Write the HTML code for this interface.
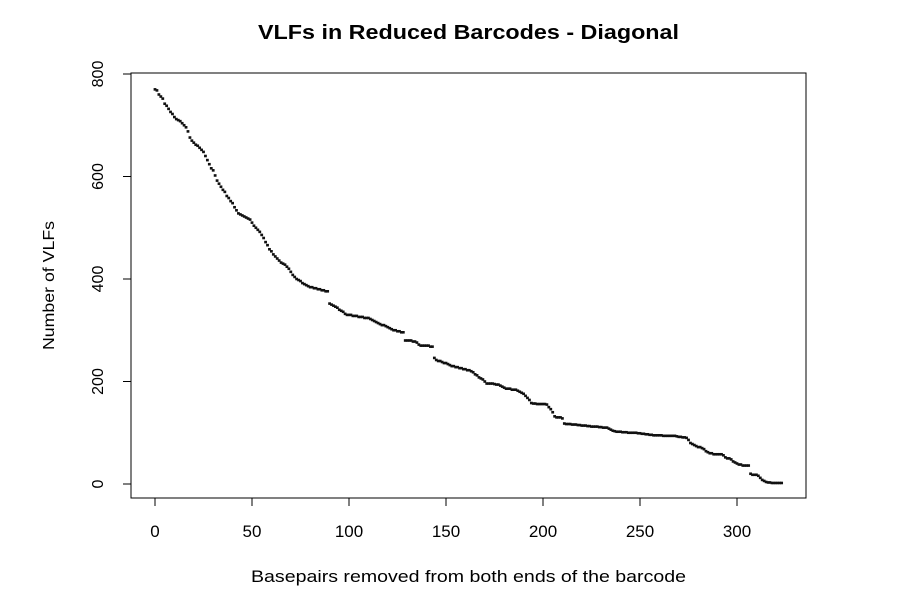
<!DOCTYPE html>
<html><head><meta charset="utf-8"><style>
body{margin:0;background:#fff}
svg text{font-family:"Liberation Sans",Arial,sans-serif;fill:#000}
</style></head><body>
<svg id="chart" width="901" height="609" xmlns="http://www.w3.org/2000/svg">
<text x="258" y="39" textLength="421" lengthAdjust="spacingAndGlyphs" font-size="20" font-weight="bold">VLFs in Reduced Barcodes - Diagonal</text>
<text x="251" y="582" textLength="435" lengthAdjust="spacingAndGlyphs" font-size="17">Basepairs removed from both ends of the barcode</text>
<text transform="translate(54,350) rotate(-90)" textLength="129" lengthAdjust="spacingAndGlyphs" font-size="16">Number of VLFs</text>
<rect x="131" y="73" width="675" height="425" fill="none" stroke="#000" stroke-width="1"/>
<g id="xaxis"></g>
<g id="yaxis"></g>
<g id="points"></g>
</svg>
<script>
const xTicks=[0,50,100,150,200,250,300];
const yTicks=[0,200,400,600,800];
const vlfCounts=[
770,768,760,756,752,742,738,732,726,722,
716,712,710,708,704,700,696,688,676,670,
666,662,660,656,652,648,640,632,624,616,
612,602,592,586,580,574,570,562,558,552,
548,540,534,528,526,524,522,520,518,516,
510,504,500,496,492,486,480,472,466,458,
454,448,444,440,436,432,430,428,424,420,
414,408,404,400,398,396,392,390,388,386,
384,384,382,382,380,380,378,378,376,376,
352,350,348,346,344,340,338,336,332,330,
330,330,328,328,328,326,326,326,324,324,
324,322,320,318,316,314,312,310,310,308,
306,304,302,300,300,298,298,296,296,280,
280,280,280,278,278,276,272,270,270,270,
270,270,268,268,246,242,240,240,238,236,
236,234,232,230,230,228,228,226,226,224,
224,222,222,220,218,214,212,208,206,204,
200,196,196,196,196,195,194,194,192,190,
188,186,186,186,184,184,184,182,180,178,
176,172,168,164,158,157,157,156,156,156,
156,156,155,150,146,140,132,130,130,130,
128,118,117,117,117,116,116,116,115,115,
114,114,114,113,113,112,112,112,112,111,
111,110,110,110,108,106,104,103,102,102,
102,101,101,101,100,100,100,100,100,99,
99,98,98,97,97,96,96,95,95,95,
95,95,94,94,94,94,94,94,94,93,
92,92,91,91,90,86,80,78,76,74,
72,72,70,68,64,62,60,60,58,58,
58,58,58,56,52,50,50,48,44,42,
40,38,38,36,36,36,36,20,18,18,
18,16,12,8,6,4,3,3,2,2,
2,2,2,2];
const NS='http://www.w3.org/2000/svg';
function xs(v){return 155+v*(737-155)/300;}
function ys(v){return 484-v*(484-74)/800;}
const xg=document.getElementById('xaxis'),yg=document.getElementById('yaxis'),pg=document.getElementById('points');
function mk(tag,attrs,parent){const e=document.createElementNS(NS,tag);for(const k in attrs)e.setAttribute(k,attrs[k]);parent.appendChild(e);return e;}
mk('line',{x1:xs(xTicks[0]),x2:xs(xTicks[xTicks.length-1]),y1:498,y2:498,stroke:'#000'},xg);
xTicks.forEach(t=>{
  const l=mk('line',{x1:xs(t),x2:xs(t),y1:498,y2:506,stroke:'#000'},xg);
  
  
  const tx=mk('text',{x:xs(t),y:537,'text-anchor':'middle','font-size':'17'},xg);
  tx.textContent=t;
  
  
});
yTicks.forEach(t=>{
  const l=mk('line',{x1:123,x2:131,y1:ys(t),y2:ys(t),stroke:'#000'},yg);
  
  
  const tx=mk('text',{transform:'translate(103,'+ys(t)+') rotate(-90)','text-anchor':'middle','font-size':'16'},yg);
  tx.textContent=t;
  
  
});
vlfCounts.forEach((v,i)=>{
  const r=mk('rect',{x:xs(i)-1.4,y:ys(v)-1.3,width:2.8,height:2.6,fill:'#111'},pg);
  
  
});
</script>
</body></html>
